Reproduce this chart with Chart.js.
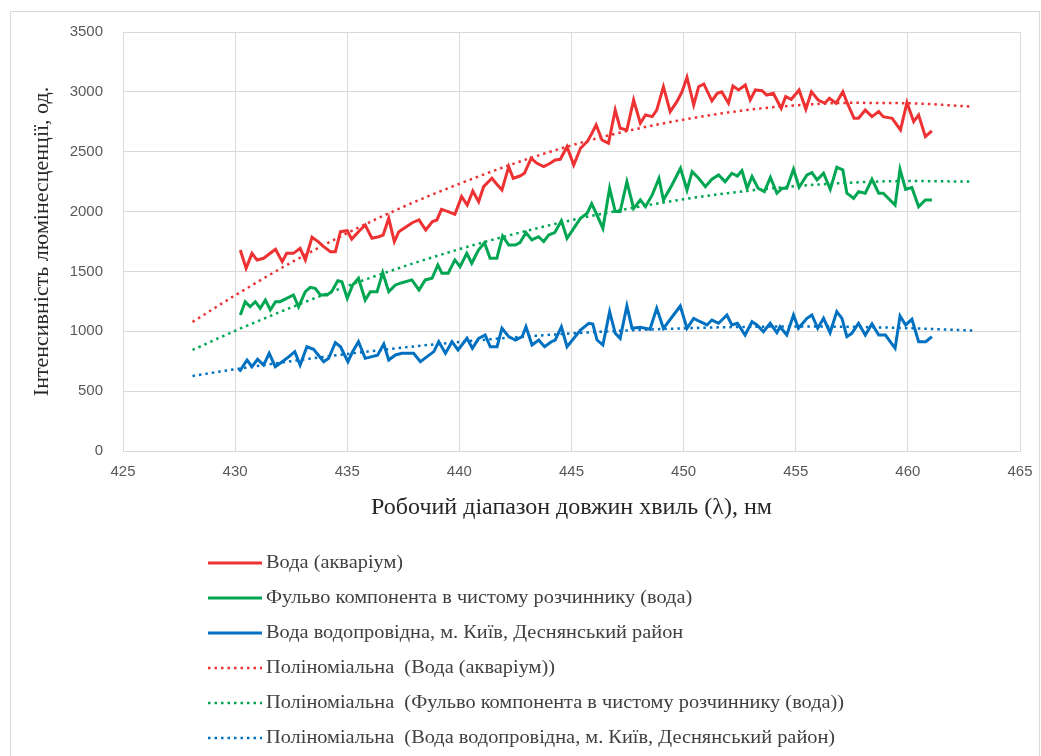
<!DOCTYPE html>
<html><head><meta charset="utf-8">
<script src="https://cdn.jsdelivr.net/npm/chart.js@4.4.1/dist/chart.umd.min.js"></script>
<style>html,body{margin:0;padding:0;background:#fff;overflow:hidden}#wrap{position:relative;width:1041px;height:756px}canvas{display:block}</style>
</head><body><div id="wrap"><canvas id="c" width="1041" height="756" style="width:1041px;height:756px"></canvas></div>
<script>
// ---- Data ----
const xTicks = [425, 430, 435, 440, 445, 450, 455, 460, 465];
const yTicks = [0, 500, 1000, 1500, 2000, 2500, 3000, 3500];

const labels = [
  'Вода (акваріум)',
  'Фульво компонента в чистому розчиннику (вода)',
  'Вода водопровідна, м. Київ, Деснянський район',
  'Поліноміальна  (Вода (акваріум))',
  'Поліноміальна  (Фульво компонента в чистому розчиннику (вода))',
  'Поліноміальна  (Вода водопровідна, м. Київ, Деснянський район)'
];

const redX = [430.23,430.49,430.75,430.98,431.27,431.8,432.1,432.3,432.6,432.9,433.13,433.43,433.7,433.95,434.25,434.47,434.7,435.0,435.2,435.5,435.8,436.1,436.4,436.6,436.85,437.1,437.3,437.6,437.9,438.2,438.5,438.8,439.0,439.2,439.5,439.8,440.1,440.35,440.6,440.86,441.08,441.45,441.7,441.9,442.2,442.4,442.7,442.9,443.2,443.46,443.76,444.05,444.27,444.5,444.8,445.1,445.4,445.7,445.9,446.1,446.36,446.65,446.95,447.17,447.47,447.77,448.07,448.3,448.6,448.8,449.1,449.4,449.7,449.93,450.15,450.45,450.67,450.9,451.26,451.5,451.7,452.0,452.2,452.45,452.75,452.97,453.2,453.5,453.7,454.0,454.35,454.55,454.8,455.15,455.45,455.7,456.0,456.3,456.5,456.8,457.1,457.3,457.6,457.8,458.1,458.4,458.7,458.9,459.3,459.67,459.96,460.26,460.48,460.78,461.07];
const redY = [1679,1526,1651,1595,1610,1685,1582,1651,1651,1693,1596,1785,1749,1707,1665,1665,1832,1840,1770,1832,1888,1777,1790,1804,1944,1749,1832,1869,1907,1930,1846,1916,1930,2019,2000,1977,2125,2055,2172,2083,2208,2278,2222,2180,2375,2278,2297,2320,2445,2403,2375,2403,2431,2437,2542,2389,2529,2584,2650,2723,2598,2570,2848,2696,2682,2932,2738,2807,2793,2848,3043,2835,2918,3001,3122,2890,3043,3066,2925,2988,3001,2905,3049,3016,3057,2932,3016,3010,2974,2988,2863,2960,2938,3016,2855,3001,2932,2905,2946,2905,3001,2905,2779,2779,2848,2793,2835,2793,2779,2682,2910,2751,2807,2626,2675];

const greenX = [430.23,430.45,430.67,430.9,431.12,431.35,431.57,431.8,432.0,432.3,432.6,432.83,433.13,433.35,433.57,433.8,434.1,434.3,434.58,434.76,435.0,435.24,435.5,435.8,436.03,436.33,436.58,436.85,437.15,437.44,437.88,438.2,438.48,438.78,439.04,439.22,439.5,439.8,440.03,440.33,440.55,440.85,441.12,441.37,441.67,441.93,442.2,442.5,442.7,442.97,443.23,443.53,443.76,443.98,444.25,444.55,444.8,445.1,445.4,445.7,445.9,446.1,446.4,446.7,446.95,447.17,447.47,447.77,448.07,448.3,448.6,448.9,449.1,449.48,449.86,450.15,450.38,450.67,450.97,451.26,451.56,451.85,452.15,452.4,452.6,452.83,453.05,453.32,453.6,453.87,454.16,454.4,454.6,454.9,455.15,455.5,455.72,455.95,456.24,456.54,456.83,457.1,457.28,457.58,457.8,458.1,458.4,458.7,458.9,459.43,459.65,459.9,460.18,460.48,460.78,461.07];
const greenY = [1136,1247,1205,1247,1192,1261,1178,1247,1247,1275,1303,1205,1331,1367,1359,1303,1303,1331,1423,1414,1275,1386,1443,1261,1331,1331,1490,1331,1387,1406,1429,1345,1429,1443,1554,1485,1485,1596,1540,1651,1568,1679,1740,1610,1610,1796,1721,1721,1740,1824,1763,1790,1749,1804,1824,1924,1777,1860,1944,1986,2066,1986,1860,2195,2000,2000,2250,2027,2097,2041,2139,2278,2097,2222,2362,2180,2334,2278,2208,2270,2306,2250,2320,2297,2342,2195,2292,2195,2167,2286,2153,2195,2195,2353,2203,2306,2325,2264,2320,2186,2370,2348,2153,2111,2167,2153,2270,2153,2153,2055,2353,2186,2200,2041,2097,2097];

const blueX = [430.19,430.53,430.75,431.0,431.27,431.52,431.79,432.1,432.4,432.66,432.9,433.2,433.5,433.95,434.17,434.47,434.7,435.03,435.24,435.5,435.8,436.1,436.35,436.63,436.85,437.15,437.44,437.96,438.26,438.56,438.86,439.08,439.38,439.67,439.94,440.34,440.58,440.86,441.15,441.38,441.68,441.9,442.2,442.5,442.8,442.97,443.24,443.54,443.8,444.1,444.27,444.55,444.8,445.1,445.4,445.77,445.95,446.14,446.4,446.7,446.95,447.17,447.47,447.7,448.07,448.5,448.8,449.1,449.55,449.85,450.15,450.45,450.74,451.04,451.26,451.56,451.93,452.15,452.4,452.74,453.05,453.27,453.56,453.86,454.16,454.3,454.6,454.9,455.12,455.5,455.72,455.98,456.24,456.53,456.83,457.06,457.28,457.5,457.8,458.1,458.4,458.7,459.0,459.43,459.65,459.9,460.18,460.48,460.8,461.07];
const blueY = [663,760,704,766,718,816,704,746,788,830,718,871,850,746,774,905,871,746,830,913,774,788,800,893,760,802,816,816,746,788,830,913,816,913,844,941,858,941,969,871,871,1025,955,927,955,1038,885,927,871,913,927,1038,871,941,1011,1067,1060,927,885,1164,983,941,1211,1025,1033,1017,1192,1025,1136,1211,1025,1108,1080,1053,1094,1067,1136,1053,1067,969,1080,1053,997,1067,988,1038,969,1136,1025,1108,1136,1025,1108,988,1164,1108,955,983,1067,969,1061,969,969,858,1128,1053,1100,913,913,955];

const trendX = [428.1,430,432.5,435,437.5,440,442.5,445,447.5,450,452.5,455,457.5,460,462.9];
const trendRed = [1078,1300,1574,1820,2040,2232,2405,2553,2674,2768,2841,2887,2908,2905,2876];
const trendGreen = [844,1004,1199,1378,1540,1686,1815,1928,2023,2103,2166,2212,2242,2255,2250];
const trendBlue = [627,683,750,811,864,911,950,982,1007,1025,1036,1040,1037,1026,1006];

const RED = '#EE3234', GREEN = '#00A651', BLUE = '#0070C0';

function pts(xs, ys){ return xs.map((x,i)=>({x:x, y:ys[i]})); }

const serif = '"Liberation Serif", "Times New Roman", serif';
const sans = '"Liberation Sans", Arial, sans-serif';

const deco = {
  id: 'deco',
  beforeDraw(chart){
    const ctx = chart.ctx;
    ctx.save();
    ctx.fillStyle = '#ffffff';
    ctx.fillRect(0,0,chart.width,chart.height);
    ctx.strokeStyle = '#d9d9d9';
    ctx.lineWidth = 1;
    ctx.strokeRect(10.5, 11.5, 1029, 770);
    ctx.restore();
  },
  afterDraw(chart){
    const ctx = chart.ctx;
    ctx.save();
    const x0 = 208, x1 = 262, tx = 266;
    chart.data.datasets.forEach((ds, i) => {
      const y = 563 + i*35;
      ctx.beginPath();
      ctx.strokeStyle = ds.borderColor;
      ctx.lineWidth = ds.borderWidth;
      ctx.setLineDash(ds.borderDash || []);
      ctx.moveTo(x0, y); ctx.lineTo(x1, y);
      ctx.stroke();
      ctx.setLineDash([]);
      ctx.save();
      ctx.translate(tx, y);
      ctx.scale(1.1, 1);
      ctx.fillStyle = '#404040';
      ctx.font = '18.5px ' + serif;
      ctx.textBaseline = 'middle';
      ctx.textAlign = 'left';
      ctx.fillText(ds.label, 0, 0);
      ctx.restore();
    });
    ctx.restore();
  }
};

new Chart(document.getElementById('c'), {
  type: 'line',
  data: {
    datasets: [
      {label: labels[0], data: pts(redX, redY), borderColor: RED, borderWidth: 3, pointRadius: 0, tension: 0, order: 1},
      {label: labels[1], data: pts(greenX, greenY), borderColor: GREEN, borderWidth: 3, pointRadius: 0, tension: 0, order: 1},
      {label: labels[2], data: pts(blueX, blueY), borderColor: BLUE, borderWidth: 3, pointRadius: 0, tension: 0, order: 1},
      {label: labels[3], data: pts(trendX, trendRed), borderColor: RED, borderWidth: 2.5, borderDash: [2.5,4], pointRadius: 0, cubicInterpolationMode: 'monotone', order: 0},
      {label: labels[4], data: pts(trendX, trendGreen), borderColor: GREEN, borderWidth: 2.5, borderDash: [2.5,4], pointRadius: 0, cubicInterpolationMode: 'monotone', order: 0},
      {label: labels[5], data: pts(trendX, trendBlue), borderColor: BLUE, borderWidth: 2.5, borderDash: [2.5,4], pointRadius: 0, cubicInterpolationMode: 'monotone', order: 0}
    ]
  },
  options: {
    responsive: false,
    animation: false,
    devicePixelRatio: 1,
    layout: {padding: {left: 0, top: 32, right: 0, bottom: 230}},
    plugins: {legend: {display: false}, tooltip: {enabled: false}},
    scales: {
      x: {
        type: 'linear', min: xTicks[0], max: xTicks[xTicks.length-1],
        afterBuildTicks: s => { s.ticks = xTicks.map(v => ({value: v})); },
        afterFit: s => { s.height = 75; s.paddingLeft = 0; s.paddingRight = 21; },
        ticks: {color: '#595959', font: {family: sans, size: 15}, padding: 12, maxRotation: 0, callback: v => String(v)},
        grid: {color: '#d9d9d9', lineWidth: 1, drawTicks: false},
        border: {display: true, color: '#d9d9d9'},
        title: {display: true, text: 'Робочий діапазон довжин хвиль (λ), нм', color: '#262626', font: {family: serif, size: 24}, padding: {top: 0, bottom: 4}}
      },
      y: {
        type: 'linear', min: yTicks[0], max: yTicks[yTicks.length-1],
        afterBuildTicks: s => { s.ticks = yTicks.map(v => ({value: v})); },
        afterFit: s => { s.width = 123; },
        ticks: {color: '#595959', font: {family: sans, size: 15}, padding: 20, callback: v => String(v)},
        grid: {color: '#d9d9d9', lineWidth: 1, drawTicks: false},
        border: {display: true, color: '#d9d9d9'},
        title: {display: true, text: 'Інтенсивність люмінесценції, од.', color: '#262626', font: {family: serif, size: 22}, padding: {top: 29, bottom: 0}}
      }
    }
  },
  plugins: [deco]
});
</script>
</body></html>
